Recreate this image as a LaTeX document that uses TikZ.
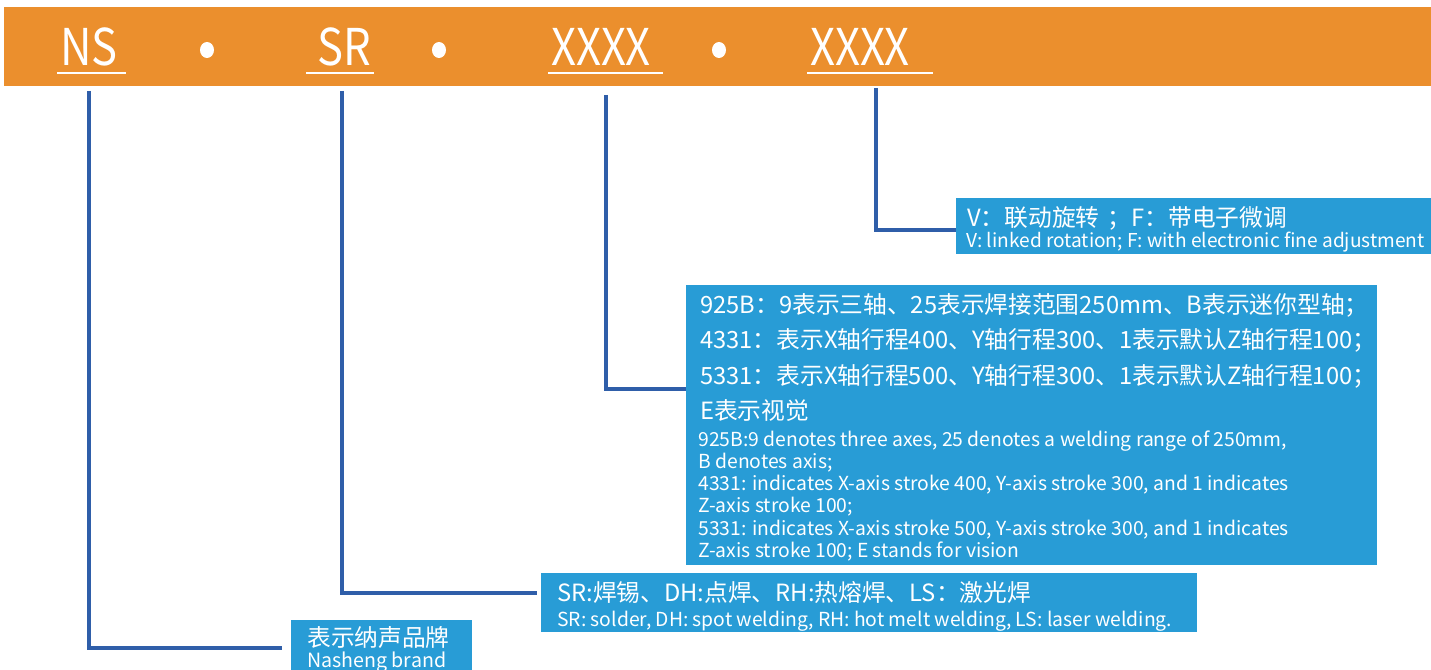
\documentclass[tikz,border=0pt]{standalone}
\usepackage{fontspec}
\usepackage{graphicx}
\setmainfont{Noto Sans CJK SC}
\usetikzlibrary{fit,calc}
\definecolor{barorange}{HTML}{EB8F2D}
\definecolor{boxblue}{HTML}{289CD6}
\definecolor{linkblue}{HTML}{2F5EA9}
\tikzset{
  hdr/.style={text=white, inner sep=0, font=\fontsize{38}{40}\selectfont},
  uline/.style={draw=white, line width=1.1pt},
  hdot/.style={fill=white},
  infobox/.style={fill=boxblue, inner sep=0},
  zh/.style={text=white, inner sep=0, anchor=base west, font=\fontsize{17.8}{20}\selectfont},
  en/.style={text=white, inner sep=0, anchor=base west, font=\fontsize{14.5}{16}\selectfont},
  link/.style={draw=linkblue, line width=2.3pt},
}
\begin{document}
\begin{tikzpicture}[x=0.75pt,y=-0.75pt]
\useasboundingbox (0,0) rectangle (1431,670);
% header bar
\node[fill=barorange, inner sep=0, fit={(4,7) (1431,86)}] (bar) {};
\node[hdr, anchor=base] (ns) at (89,66) {\scalebox{0.86}[1]{NS}};
\node[hdr, anchor=base] (sr) at (344,66) {\scalebox{0.86}[1]{SR}};
\node[hdr, anchor=base] (xa) at (601,66) {\scalebox{0.86}[1]{XXXX}};
\node[hdr, anchor=base] (xb) at (860,66) {\scalebox{0.86}[1]{XXXX}};
\draw[uline] (57,73) -- (126,73);
\draw[uline] (306,73) -- (374,73);
\draw[uline] (548,73) -- (663,73);
\draw[uline] (807,73) -- (933,73);
\fill[hdot] (207,50) ellipse (7 and 8);
\fill[hdot] (439,50) ellipse (7 and 8);
\fill[hdot] (719,50) ellipse (7 and 8);
% boxes
\node[infobox, fit={(956,198) (1431,254)}] (b1) {};
\node[zh] (b1a) at (967,227) {V：联动旋转\hspace{0.35em}；F：带电子微调};
\node[en, font=\fontsize{14.35}{16}\selectfont] (b1b) at (966,248) {V: linked rotation; F: with electronic fine adjustment};

\node[infobox, fit={(686,285) (1377,565)}] (b2) {};
\node[zh] (b2a) at (700,313) {925B：9表示三轴、25表示焊接范围250mm、B表示迷你型轴；};
\node[zh] (b2b) at (700,349) {4331：表示X轴行程400、Y轴行程300、1表示默认Z轴行程100；};
\node[zh] (b2c) at (700,384) {5331：表示X轴行程500、Y轴行程300、1表示默认Z轴行程100；};
\node[zh] (b2d) at (700,419) {E表示视觉};
\node[en] (b2e) at (698,446) {925B:9 denotes three axes, 25 denotes a welding range of 250mm,};
\node[en] (b2f) at (698,468) {B denotes axis;};
\node[en] (b2g) at (698,490) {4331: indicates X-axis stroke 400, Y-axis stroke 300, and 1 indicates};
\node[en] (b2h) at (698,512) {Z-axis stroke 100;};
\node[en] (b2i) at (698,535) {5331: indicates X-axis stroke 500, Y-axis stroke 300, and 1 indicates};
\node[en] (b2j) at (698,557) {Z-axis stroke 100; E stands for vision};

\node[infobox, fit={(541,573) (1197,632)}] (b3) {};
\node[zh] (b3a) at (557,601) {SR:焊锡、DH:点焊、RH:热熔焊、LS：激光焊};
\node[en] (b3b) at (557,626) {SR: solder, DH: spot welding, RH: hot melt welding, LS: laser welding.};

\node[infobox, fit={(291,620) (472,670)}] (b4) {};
\node[zh] (b4a) at (307,646) {表示纳声品牌};
\node[en, font=\fontsize{14.7}{16}\selectfont] (b4b) at (307,667) {Nasheng brand};
% connectors
\coordinate (t1) at (89,91);
\coordinate (t2) at (342,91);
\coordinate (t3) at (606,95);
\coordinate (t4) at (876,88);
\draw[link] (t1) |- ($(b4.west)+(-9,3)$);
\draw[link] (t2) |- ($(b3.west)+(-4,-9.5)$);
\draw[link] (t3) |- ($(b2.west)+(0,-36)$);
\draw[link] (t4) |- ($(b1.west)+(0,4)$);
\end{tikzpicture}
\end{document}
